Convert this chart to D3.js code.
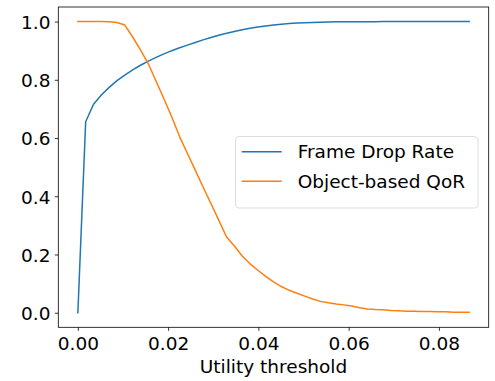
<!DOCTYPE html>
<html>
<head>
<meta charset="utf-8">
<script src="https://cdn.jsdelivr.net/npm/d3@7"></script>
<style>
  html, body { margin: 0; padding: 0; background: #fff; }
  svg { display: block; font-family: "DejaVu Sans", sans-serif; }
</style>
</head>
<body>
<svg id="chart" width="495" height="381"></svg>
<script>
// ---- data ----
const thresholds = [0, 0.00173, 0.00347, 0.00520, 0.00694, 0.00867, 0.01040, 0.01214, 0.01387, 0.01561,
  0.01734, 0.01907, 0.02081, 0.02254, 0.02428, 0.02601, 0.02774, 0.02948, 0.03121, 0.03295,
  0.03468, 0.03641, 0.03815, 0.03988, 0.04162, 0.04335, 0.04508, 0.04682, 0.04855, 0.05029,
  0.05202, 0.05375, 0.05549, 0.05722, 0.05896, 0.06069, 0.06242, 0.06416, 0.06589, 0.06763,
  0.06936, 0.07109, 0.07283, 0.07456, 0.07630, 0.07803, 0.07976, 0.08150, 0.08323, 0.08497, 0.08670];
const frameDropRate = [0, 0.656, 0.716, 0.748, 0.774, 0.797, 0.816, 0.834, 0.850, 0.864,
  0.877, 0.889, 0.900, 0.910, 0.919, 0.928, 0.937, 0.945, 0.953, 0.960,
  0.966, 0.972, 0.977, 0.981, 0.985, 0.988, 0.991, 0.993, 0.995, 0.996,
  0.997, 0.998, 0.9985, 0.999, 0.9992, 0.9994, 0.9995, 0.9996, 0.9997, 0.9998,
  0.9998, 0.9999, 0.9999, 1.0, 1.0, 1.0, 1.0, 1.0, 1.0, 1.0, 1.0];
const objectQoR = [1.0, 1.0, 1.0, 1.0, 0.999, 0.997, 0.988, 0.947, 0.903, 0.855,
  0.795, 0.735, 0.672, 0.605, 0.547, 0.49, 0.432, 0.375, 0.318, 0.260,
  0.229, 0.195, 0.168, 0.146, 0.125, 0.106, 0.090, 0.077, 0.067, 0.057,
  0.047, 0.039, 0.034, 0.030, 0.027, 0.023, 0.017, 0.013, 0.011, 0.010,
  0.008, 0.007, 0.0055, 0.005, 0.004, 0.004, 0.003, 0.003, 0.002, 0.002, 0.002];
const seriesNames = ["Frame Drop Rate", "Object-based QoR"];
const xTicks = [0, 0.02, 0.04, 0.06, 0.08];
const yTicks = [0, 0.2, 0.4, 0.6, 0.8, 1.0];
const xLabel = "Utility threshold";

// ---- layout ----
const L = 58.3, R = 488.7, T = 7, B = 327.3;
const FS = 18.5;
const colors = ["#1f77b4", "#ff7f0e"];

const svg = d3.select("#chart");
const x = d3.scaleLinear().domain([-0.004335, 0.091035]).range([L, R]);
const y = d3.scaleLinear().domain([-0.05, 1.05]).range([B, T]);

// axes
const xAxis = svg.append("g").attr("transform", `translate(0,${B})`)
  .call(d3.axisBottom(x).tickValues(xTicks).tickFormat(d3.format(".2f")).tickSize(3.5).tickSizeOuter(0));
xAxis.select(".domain").remove();
xAxis.selectAll(".tick line").attr("stroke", "#000").attr("stroke-width", 0.8);
xAxis.selectAll(".tick text").attr("y", 22.7).attr("dy", 0)
  .attr("font-size", FS).attr("font-family", "DejaVu Sans").attr("fill", "#000");

const yAxis = svg.append("g").attr("transform", `translate(${L},0)`)
  .call(d3.axisLeft(y).tickValues(yTicks).tickFormat(d3.format(".1f")).tickSize(3.5).tickSizeOuter(0));
yAxis.select(".domain").remove();
yAxis.selectAll(".tick line").attr("stroke", "#000").attr("stroke-width", 0.8);
yAxis.selectAll(".tick text").attr("x", -7.8).attr("dy", 0).attr("y", 6.8)
  .attr("font-size", FS).attr("font-family", "DejaVu Sans").attr("fill", "#000");

// lines
const seriesData = [frameDropRate, objectQoR];
const line = d3.line().x(d => x(d[0])).y(d => y(d[1]));
seriesData.forEach((vals, k) => {
  svg.append("path")
    .datum(thresholds.map((t, i) => [t, vals[i]]))
    .attr("fill", "none")
    .attr("stroke", colors[k])
    .attr("stroke-width", 1.5)
    .attr("stroke-linejoin", "round")
    .attr("stroke-linecap", "square")
    .attr("d", line);
});

// frame
svg.append("rect").attr("x", L).attr("y", T).attr("width", R - L).attr("height", B - T)
  .attr("fill", "none").attr("stroke", "#000").attr("stroke-width", 0.8);

// x label
svg.append("text").attr("x", (L + R) / 2).attr("y", 372.5).attr("text-anchor", "middle")
  .attr("font-size", FS).attr("fill", "#000").text(xLabel);

// legend
const lg = svg.append("g");
lg.append("rect").attr("x", 235.5).attr("y", 136.5).attr("width", 242.5).attr("height", 71.5)
  .attr("rx", 3.5).attr("fill", "#fff").attr("fill-opacity", 0.8)
  .attr("stroke", "#d6d6d6").attr("stroke-width", 0.8);
seriesNames.forEach((name, k) => {
  const cy = 151.7 + k * 29.5;
  lg.append("line").attr("x1", 241.7).attr("x2", 281.7).attr("y1", cy).attr("y2", cy)
    .attr("stroke", colors[k]).attr("stroke-width", 1.5);
  lg.append("text").attr("x", 297.7).attr("y", cy + 6.7).attr("font-size", FS)
    .attr("fill", "#000").text(name);
});
</script>
</body>
</html>
